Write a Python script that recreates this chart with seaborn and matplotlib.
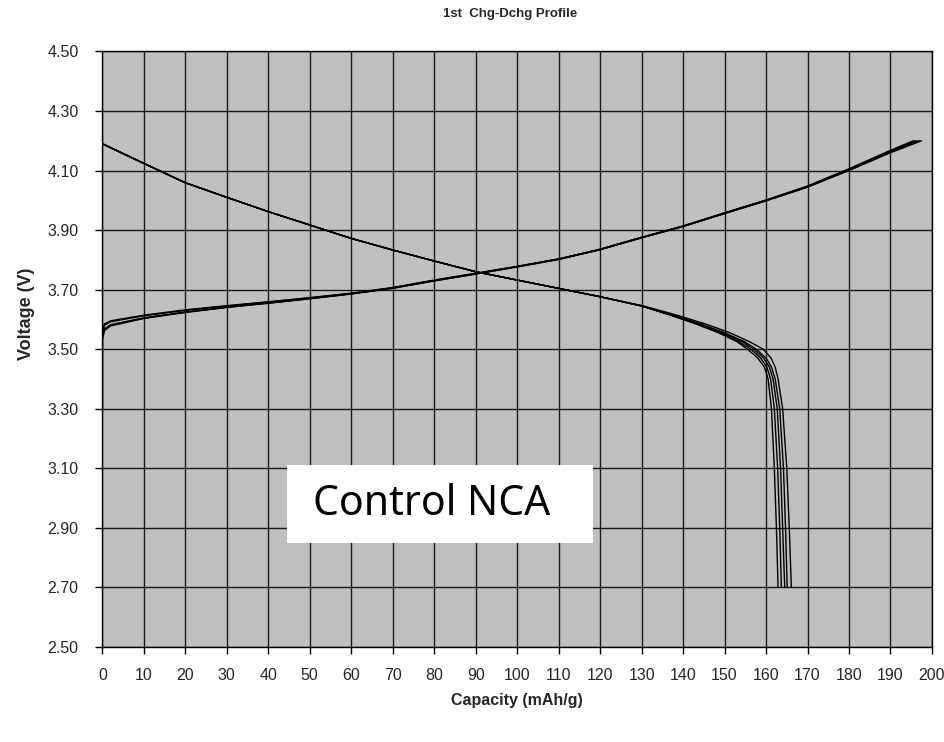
import numpy as np
import pandas as pd
import matplotlib
matplotlib.use("Agg")
import matplotlib.pyplot as plt
from matplotlib.patches import Rectangle
import seaborn as sns

# ---- charge curves: shared capacity grid (mAh/g), one voltage list per cell ----
chg_capacity = [0, 0, 0.5, 2, 10, 20, 30, 40, 50, 60, 70, 80, 90, 100,
                110, 120, 130, 140, 150, 160, 170, 180, 190]
chg_voltage = {
    "cell 1": [3.30, 3.56, 3.585, 3.595, 3.614, 3.632, 3.646, 3.659, 3.673, 3.688, 3.707, 3.732,
               3.755, 3.778, 3.803, 3.836, 3.876, 3.914, 3.958, 4.001, 4.048, 4.106, 4.168],
    "cell 2": [3.30, 3.55, 3.580, 3.592, 3.612, 3.630, 3.645, 3.658, 3.672, 3.687, 3.706, 3.731,
               3.754, 3.778, 3.803, 3.835, 3.875, 3.913, 3.957, 4.000, 4.046, 4.104, 4.165],
    "cell 3": [3.30, 3.54, 3.568, 3.582, 3.605, 3.625, 3.641, 3.655, 3.670, 3.686, 3.705, 3.730,
               3.753, 3.777, 3.802, 3.835, 3.875, 3.913, 3.957, 4.000, 4.046, 4.103, 4.164],
    "cell 4": [3.30, 3.54, 3.565, 3.580, 3.604, 3.624, 3.641, 3.655, 3.670, 3.686, 3.705, 3.730,
               3.753, 3.777, 3.802, 3.834, 3.874, 3.912, 3.956, 3.999, 4.045, 4.102, 4.162],
    "cell 5": [3.30, 3.53, 3.562, 3.578, 3.603, 3.623, 3.640, 3.654, 3.669, 3.685, 3.704, 3.729,
               3.752, 3.776, 3.801, 3.834, 3.874, 3.912, 3.955, 3.998, 4.044, 4.100, 4.160],
}
chg_end_capacity = {"cell 1": 195.5, "cell 2": 196.0, "cell 3": 196.5,
                    "cell 4": 197.0, "cell 5": 197.5}
chg_end_voltage = 4.20

# ---- discharge curves: shared voltage grid (V), one capacity list per cell ----
dchg_voltage = [4.19, 4.124, 4.059, 4.010, 3.962, 3.917, 3.872, 3.833, 3.796, 3.760,
                3.732, 3.704, 3.676, 3.645, 3.614, 3.585, 3.555, 3.525, 3.50, 3.47,
                3.44, 3.40, 3.30, 3.10, 2.90, 2.70]
dchg_capacity = {
    "cell 1": [0, 10, 20, 30, 40, 50, 60, 70, 80, 90, 100, 110, 120, 130, 137, 143,
               148.5, 153, 155.5, 158.0, 159.6, 160.5, 161.3, 162.0, 162.5, 162.9],
    "cell 2": [0, 10, 20, 30, 40, 50, 60, 70, 80, 90, 100, 110, 120, 130, 137, 143.3,
               149, 153.5, 156.3, 158.7, 160.2, 161.1, 162.0, 162.8, 163.3, 163.7],
    "cell 3": [0, 10, 20, 30, 40, 50, 60, 70, 80, 90, 100, 110, 120, 130, 137.5, 143.8,
               149.5, 154.3, 157.0, 159.4, 160.8, 161.7, 162.7, 163.5, 164.0, 164.5],
    "cell 4": [0, 10, 20, 30, 40, 50, 60, 70, 80, 90, 100, 110, 120, 130, 137.5, 144.2,
               150, 154.8, 157.6, 160.0, 161.3, 162.2, 163.3, 164.2, 164.7, 165.1],
    "cell 5": [0, 10, 20, 30, 40, 50, 60, 70, 80, 90, 100, 110, 120, 130.5, 138.5, 145.3,
               151.3, 156.0, 159.3, 161.2, 162.2, 162.9, 164.0, 165.0, 165.6, 166.1],
}

x_ticks = list(range(0, 201, 10))
y_ticks = [2.50, 2.70, 2.90, 3.10, 3.30, 3.50, 3.70, 3.90, 4.10, 4.30, 4.50]

# ---- long-form table for seaborn ----
rows = []
for cell, volts in chg_voltage.items():
    caps = chg_capacity + [chg_end_capacity[cell]]
    vs = volts + [chg_end_voltage]
    for i, (c, v) in enumerate(zip(caps, vs)):
        rows.append({"capacity": c, "voltage": v, "trace": f"{cell} chg", "order": i})
for cell, caps in dchg_capacity.items():
    for i, (c, v) in enumerate(zip(caps, dchg_voltage)):
        rows.append({"capacity": c, "voltage": v, "trace": f"{cell} dchg", "order": i})
df = pd.DataFrame(rows)

sns.set_style("whitegrid", {
    "axes.facecolor": "#C0C0C0",
    "axes.edgecolor": "black",
    "grid.color": "#1a1a1a",
    "axes.linewidth": 1.0,
})
sans = ["Liberation Sans", "DejaVu Sans"]
plt.rcParams["font.family"] = sans

fig = plt.figure(figsize=(9.45, 7.42), dpi=100)
ax = fig.add_axes([0.1083, 0.1284, 0.8779, 0.8022])

sns.lineplot(data=df, x="capacity", y="voltage", units="trace", estimator=None,
             sort=False, color="black", linewidth=1.0, ax=ax, legend=False)

ax.set_xlim(0, 200)
ax.set_ylim(2.50, 4.50)
ax.set_xticks(x_ticks)
ax.set_yticks(y_ticks)
ax.set_xticklabels([str(t) for t in x_ticks], fontsize=11.5)
ax.set_yticklabels([f"{t:.2f}" for t in y_ticks], fontsize=11.5)
ax.grid(True, color="#1a1a1a", linewidth=1.0)
ax.set_axisbelow(True)
ax.tick_params(axis="x", direction="out", length=5, width=1, color="black",
               bottom=True, pad=10.5)
ax.tick_params(axis="y", direction="out", length=5, width=1, color="black",
               left=True, pad=12)
for s in ax.spines.values():
    s.set_visible(True)
    s.set_color("black")
    s.set_linewidth(1.0)

ax.set_xlabel("Capacity (mAh/g)", fontsize=11.5, fontweight="bold")
ax.xaxis.label.set_va("center")
ax.xaxis.set_label_coords(0.5, -0.0896)
ax.set_ylabel("Voltage (V)", fontsize=13, fontweight="bold")
ax.yaxis.label.set_va("center")
ax.yaxis.set_label_coords(-0.092, 0.56)

fig.text(0.54, 0.981, "1st  Chg-Dchg Profile", ha="center", va="center",
         fontsize=9.5, fontweight="bold")

# sample label box
ax.add_patch(Rectangle((0.223, 0.1735), 0.3685, 0.1315, transform=ax.transAxes,
                       facecolor="white", edgecolor="none", zorder=5))
ax.text(0.2535, 0.239, "Control NCA", transform=ax.transAxes, ha="left", va="center",
        fontsize=29.5, family=["Noto Sans", "DejaVu Sans"], color="black", zorder=6)

fig.savefig("out.png", dpi=100, facecolor="white")
